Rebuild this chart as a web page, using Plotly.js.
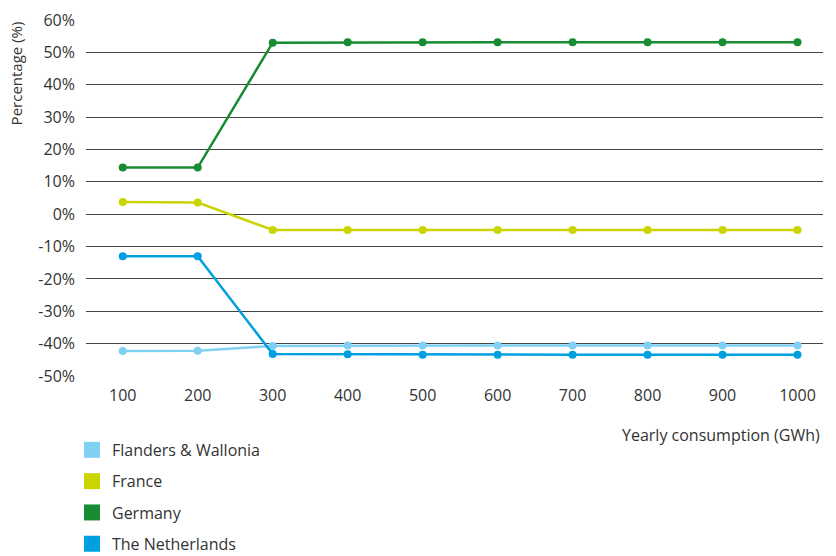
<!DOCTYPE html>
<html>
<head>
<meta charset="utf-8">
<script src="https://cdn.plot.ly/plotly-3.0.1.min.js"></script>
<style>html,body{margin:0;padding:0;background:#fff;}#chart{width:836px;height:556px;}</style>
</head>
<body>
<div id="chart"></div>
<script>
const consumption = [100, 200, 300, 400, 500, 600, 700, 800, 900, 1000];
const tickLabels = ['100','200','300','400','500','600','700','800','900','1000'];
const seriesNames = ['Flanders &amp; Wallonia', 'France', 'Germany', 'The Netherlands'];
const flandersWallonia = [-42.3, -42.2, -40.7, -40.6, -40.6, -40.6, -40.6, -40.6, -40.6, -40.6];
const france = [3.8, 3.6, -4.9, -4.9, -4.9, -4.9, -4.9, -4.9, -4.9, -4.9];
const germany = [14.4, 14.4, 53.0, 53.1, 53.1, 53.1, 53.1, 53.1, 53.1, 53.1];
const netherlands = [-13.0, -13.0, -43.2, -43.3, -43.4, -43.4, -43.4, -43.4, -43.4, -43.4];
const yTicks = [-50, -40, -30, -20, -10, 0, 10, 20, 30, 40, 50, 60];
const yTickLabels = yTicks.map(v => v + '%');

const colors = ['#80d0f3', '#c9d400', '#188c32', '#009fe0'];
const allSeries = [flandersWallonia, france, germany, netherlands];

const traces = [];
allSeries.forEach((vals, i) => {
  traces.push({
    x: consumption, y: vals, type: 'scatter', mode: 'lines+markers',
    name: seriesNames[i], showlegend: false,
    line: {color: colors[i], width: 2.5},
    marker: {color: colors[i], size: 8}
  });
});
allSeries.forEach((vals, i) => {
  traces.push({
    x: [null], y: [null], type: 'scatter', mode: 'markers',
    name: seriesNames[i], legendgroup: 'g' + i, showlegend: true,
    marker: {color: colors[i], size: 16, symbol: 'square'}
  });
});

const fam = '"Open Sans", "Noto Sans", sans-serif';

const layout = {
  width: 836, height: 556,
  margin: {l: 86, r: 13, t: 20, b: 180, autoexpand: false},
  paper_bgcolor: '#fff', plot_bgcolor: '#fff',
  font: {family: fam, size: 15, color: '#333'},
  showlegend: true,
  legend: {
    x: -0.019, xanchor: 'left', y: -0.16, yanchor: 'top',
    orientation: 'v', tracegroupgap: 7.5,
    font: {family: fam, size: 16, color: '#333'},
    bgcolor: 'rgba(0,0,0,0)'
  },
  xaxis: {
    type: 'linear', range: [51, 1034],
    tickmode: 'array', tickvals: consumption, ticktext: tickLabels,
    showgrid: false, zeroline: false, showline: false, ticks: '',
    tickfont: {size: 16, color: '#333'}, ticklabelstandoff: 8
  },
  yaxis: {
    range: [-50, 60], tickmode: 'array', tickvals: yTicks, ticktext: yTickLabels,
    showgrid: true, gridcolor: '#444', gridwidth: 1,
    zeroline: false, showline: false, ticks: '',
    tickfont: {size: 16, color: '#333'}, ticklabelstandoff: 10
  },
  annotations: [
    {text: 'Percentage (%)', xref: 'paper', yref: 'paper', x: -0.095, y: 0.85,
     xanchor: 'center', yanchor: 'middle', textangle: -90, showarrow: false,
     font: {size: 15, color: '#333'}},
    {text: 'Yearly consumption (GWh)', xref: 'paper', yref: 'paper', x: 0.998, y: -0.165,
     xanchor: 'right', yanchor: 'middle', showarrow: false,
     font: {size: 16, color: '#333'}}
  ]
};

Plotly.newPlot('chart', traces, layout, {displayModeBar: false, staticPlot: true});
</script>
</body>
</html>
